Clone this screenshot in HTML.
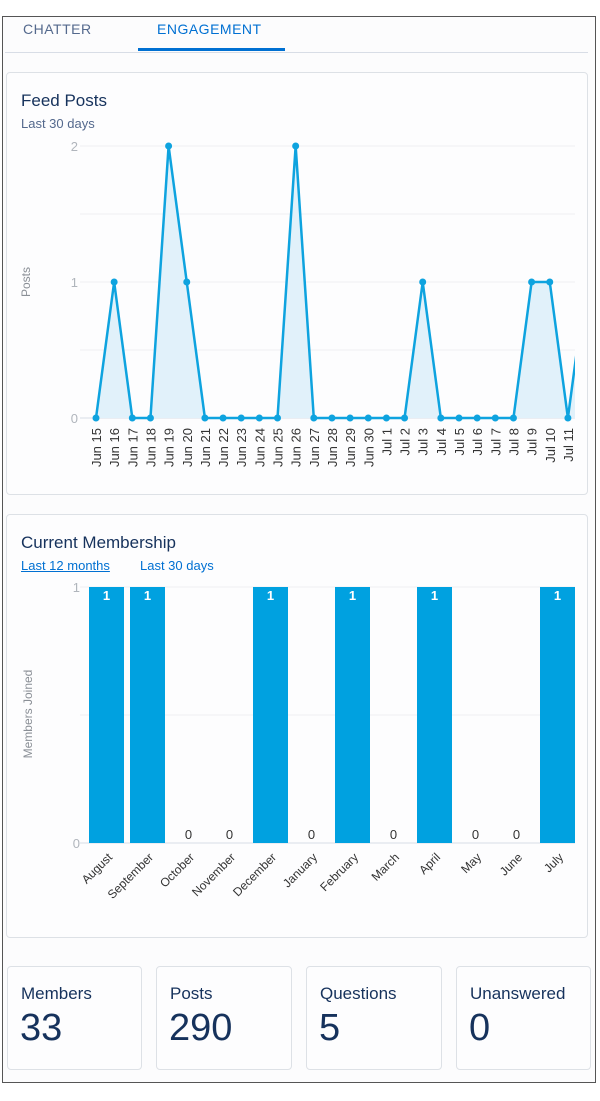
<!DOCTYPE html>
<html><head><meta charset="utf-8"><style>
body{margin:0;width:600px;height:1101px;background:#fff;font-family:"Liberation Sans",sans-serif;position:relative;overflow:hidden}
.frame{position:absolute;left:2px;top:16px;width:594px;height:1067px;border:1px solid #555;box-sizing:border-box;background:#fcfcfd}
.card{position:absolute;border:1px solid #dde1e6;border-radius:4px;background:#fdfdfe;box-sizing:border-box}
.tab{position:absolute;top:21px;font-size:14px;letter-spacing:0.5px}
.stat .l{position:absolute;left:13px;top:17px;font-size:17px;color:#16325c}
.stat .v{position:absolute;left:12px;top:40px;font-size:38px;color:#16325c;font-weight:300}
</style></head><body>
<div class="frame"></div>
<div class="tab" style="left:23px;color:#54698d">CHATTER</div>
<div class="tab" style="left:157px;color:#0070d2">ENGAGEMENT</div>
<div style="position:absolute;left:5px;top:52px;width:583px;height:1px;background:#d8dde6"></div>
<div style="position:absolute;left:138px;top:48px;width:147px;height:3px;background:#0070d2"></div>

<div class="card" style="left:6px;top:72px;width:582px;height:423px">
<div style="position:absolute;left:14px;top:18px;font-size:17px;color:#16325c">Feed Posts</div>
<div style="position:absolute;left:14px;top:43px;font-size:13px;color:#54698d">Last 30 days</div>
</div>
<svg id="line" style="position:absolute;left:0;top:0" width="600" height="500"></svg>

<div class="card" style="left:6px;top:514px;width:582px;height:424px">
<div style="position:absolute;left:14px;top:18px;font-size:17px;color:#16325c">Current Membership</div>
<div style="position:absolute;left:14px;top:43px;font-size:13px;color:#0070d2;text-decoration:underline">Last 12 months</div>
<div style="position:absolute;left:133px;top:43px;font-size:13px;color:#0070d2">Last 30 days</div>
</div>
<svg id="bar" style="position:absolute;left:0;top:0" width="600" height="940"></svg>

<div class="card stat" style="left:7px;top:966px;width:135px;height:104px"><div class="l">Members</div><div class="v">33</div></div>
<div class="card stat" style="left:156px;top:966px;width:136px;height:104px"><div class="l">Posts</div><div class="v">290</div></div>
<div class="card stat" style="left:306px;top:966px;width:136px;height:104px"><div class="l">Questions</div><div class="v">5</div></div>
<div class="card stat" style="left:456px;top:966px;width:135px;height:104px"><div class="l">Unanswered</div><div class="v">0</div></div>

<script>
const days=["Jun 15","Jun 16","Jun 17","Jun 18","Jun 19","Jun 20","Jun 21","Jun 22","Jun 23","Jun 24","Jun 25","Jun 26","Jun 27","Jun 28","Jun 29","Jun 30","Jul 1","Jul 2","Jul 3","Jul 4","Jul 5","Jul 6","Jul 7","Jul 8","Jul 9","Jul 10","Jul 11","Jul 12"];
const posts=[0,1,0,0,2,1,0,0,0,0,0,2,0,0,0,0,0,0,1,0,0,0,0,0,1,1,0,1];
const postTicks=[0,1,2];
const months=["August","September","October","November","December","January","February","March","April","May","June","July"];
const joined=[1,1,0,0,1,0,1,0,1,0,0,1];
const joinTicks=[0,1];
const NS="http://www.w3.org/2000/svg";
function mk(svg,t,a,txt){const e=document.createElementNS(NS,t);for(const k in a)e.setAttribute(k,a[k]);if(txt!==undefined)e.textContent=txt;svg.appendChild(e);return e;}
// line chart
const L=document.getElementById('line');
const lx=i=>96+i*18.15, ly=v=>418-v*136;
const defs=mk(L,'defs',{});const cp=mk(defs,'clipPath',{id:'c1'});mk(cp,'rect',{x:80,y:130,width:495,height:300});
[0,0.5,1,1.5,2].forEach(v=>{const g=mk(L,'line',{x1:80,x2:575,y1:ly(v),y2:ly(v),stroke:v===0?'#d8dde6':'#eef0f3','stroke-width':1});

});
postTicks.forEach(v=>{const t=mk(L,'text',{x:78,y:ly(v)+5,'text-anchor':'end','font-size':13,fill:'#b0b5bc'},v);

});
const yt=mk(L,'text',{transform:'translate(30,282) rotate(-90)','text-anchor':'middle','font-size':12,fill:'#8a8f96'},'Posts');


const g=mk(L,'g',{'clip-path':'url(#c1)'});
let pts=posts.map((v,i)=>lx(i)+','+ly(v)).join(' ');
const area=mk(g,'polygon',{points:lx(0)+','+ly(0)+' '+pts+' '+lx(posts.length-1)+','+ly(0),fill:'#e1f1fa'});


const pl=mk(g,'polyline',{points:pts,fill:'none',stroke:'#0ea3df','stroke-width':2.5});


posts.forEach((v,i)=>{const c=mk(g,'circle',{cx:lx(i),cy:ly(v),r:3.5,fill:'#0ea3df'});

});
days.forEach((d,i)=>{if(lx(i)>575)return;const t=mk(L,'text',{transform:`translate(${lx(i)+5},428) rotate(-90)`,'text-anchor':'end','font-size':13,fill:'#333'},d);

});
// bar chart
const B=document.getElementById('bar');
const bx=i=>89+i*41, by=v=>843-v*256;
[0,0.5,1].forEach(v=>{const gl=mk(B,'line',{x1:80,x2:575,y1:by(v),y2:by(v),stroke:v===0?'#d8dde6':'#eef0f3'});

});
joinTicks.forEach(v=>{const t=mk(B,'text',{x:80,y:by(v)+5,'text-anchor':'end','font-size':13,fill:'#b0b5bc'},v);

});
const byt=mk(B,'text',{transform:'translate(32,714) rotate(-90)','text-anchor':'middle','font-size':12,fill:'#8a8f96'},'Members Joined');


joined.forEach((v,i)=>{
if(v>0){const r=mk(B,'rect',{x:bx(i),y:by(v),width:35,height:by(0)-by(v),fill:'#00a1e0'});


const t=mk(B,'text',{x:bx(i)+17.5,y:by(v)+13,'text-anchor':'middle','font-size':13,'font-weight':'bold',fill:'#fff'},v);

}
else{const t=mk(B,'text',{x:bx(i)+17.5,y:by(0)-4,'text-anchor':'middle','font-size':13,fill:'#333'},v);

}
const ml=mk(B,'text',{transform:`translate(${bx(i)+24},858) rotate(-45)`,'text-anchor':'end','font-size':12,fill:'#333'},months[i]);


});
</script>
</body></html>
